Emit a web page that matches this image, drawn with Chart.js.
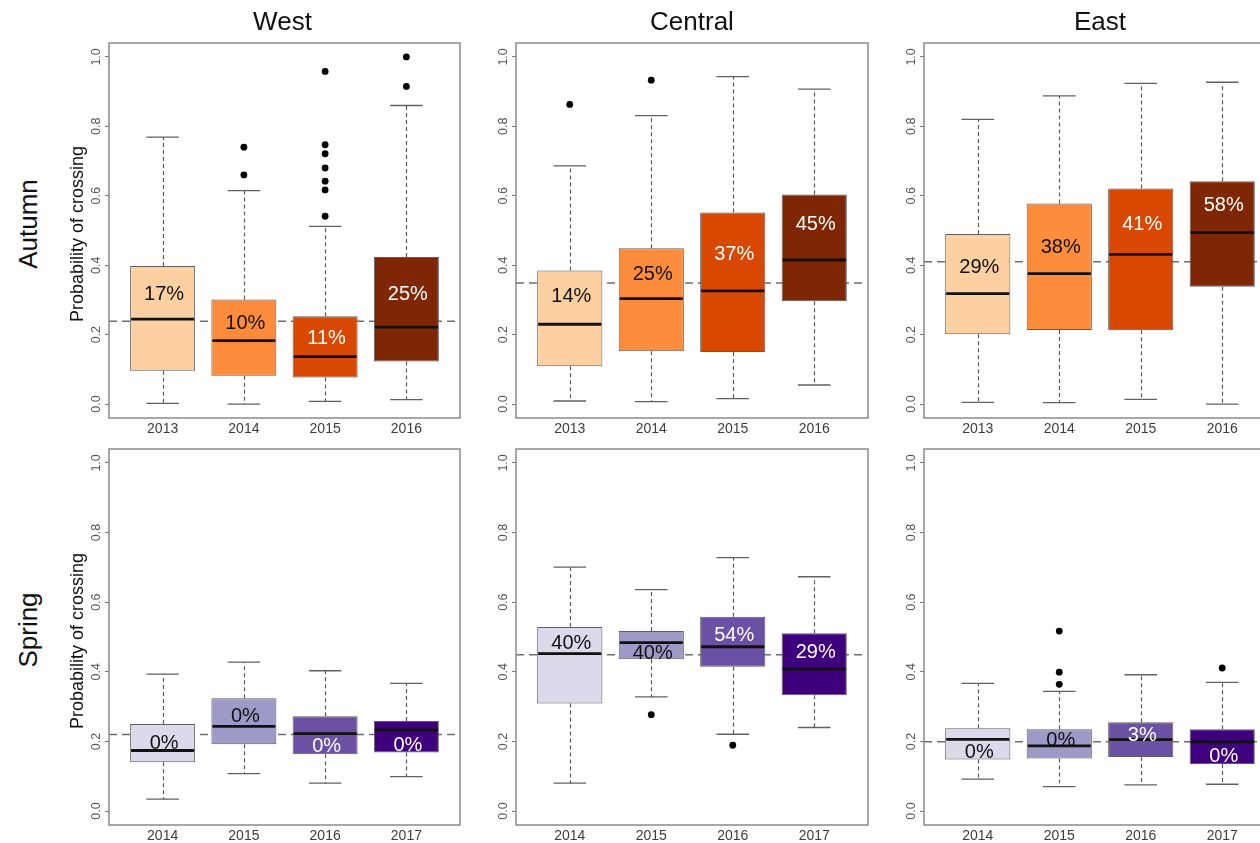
<!DOCTYPE html>
<html>
<head>
<meta charset="utf-8">
<script src="https://cdn.jsdelivr.net/npm/chart.js@4"></script>
<style>
  html, body { margin: 0; padding: 0; width: 1260px; height: 843px; overflow: hidden; background: #fff; }
  body { position: relative; font-family: "Liberation Sans", Arial, Helvetica, sans-serif; }
  canvas { position: absolute; }
  .lbl { position: absolute; white-space: nowrap; text-align: center; color: #111; }
</style>
</head>
<body>
<script>
// ---- Years on the x axis ----
const autumnYears = ['2013', '2014', '2015', '2016'];
const springYears = ['2014', '2015', '2016', '2017'];
const yTickValues = [0, 0.2, 0.4, 0.6, 0.8, 1.0];

// ---- Autumn, West ----
const westAutumnLow      = [0.002, 0.000, 0.008, 0.013];
const westAutumnQ1       = [0.096, 0.082, 0.077, 0.123];
const westAutumnMedian   = [0.245, 0.183, 0.137, 0.222];
const westAutumnQ3       = [0.398, 0.301, 0.253, 0.424];
const westAutumnHigh     = [0.769, 0.615, 0.512, 0.860];
const westAutumnOutliers = [[], [0.740, 0.660], [0.958, 0.747, 0.721, 0.680, 0.642, 0.617, 0.541], [1.000, 0.915]];
const westAutumnShare    = ['17%', '10%', '11%', '25%'];
const westAutumnShareAt  = [0.320, 0.237, 0.195, 0.320];
const westAutumnOverall  = 0.239;

// ---- Autumn, Central ----
const centralAutumnLow      = [0.009, 0.007, 0.016, 0.055];
const centralAutumnQ1       = [0.109, 0.152, 0.150, 0.296];
const centralAutumnMedian   = [0.230, 0.304, 0.326, 0.415];
const centralAutumnQ3       = [0.385, 0.449, 0.552, 0.604];
const centralAutumnHigh     = [0.686, 0.831, 0.943, 0.907];
const centralAutumnOutliers = [[0.863], [0.933], [], []];
const centralAutumnShare    = ['14%', '25%', '37%', '45%'];
const centralAutumnShareAt  = [0.315, 0.378, 0.435, 0.521];
const centralAutumnOverall  = 0.349;

// ---- Autumn, East ----
const eastAutumnLow      = [0.005, 0.004, 0.0135, 0.000];
const eastAutumnQ1       = [0.201, 0.2135, 0.2125, 0.338];
const eastAutumnMedian   = [0.318, 0.376, 0.431, 0.494];
const eastAutumnQ3       = [0.490, 0.578, 0.621, 0.642];
const eastAutumnHigh     = [0.820, 0.8875, 0.924, 0.927];
const eastAutumnOutliers = [[], [], [], []];
const eastAutumnShare    = ['29%', '38%', '41%', '58%'];
const eastAutumnShareAt  = [0.399, 0.455, 0.521, 0.577];
const eastAutumnOverall  = 0.410;

// ---- Spring, West ----
const westSpringLow      = [0.0345, 0.1075, 0.080, 0.099];
const westSpringQ1       = [0.140, 0.192, 0.163, 0.168];
const westSpringMedian   = [0.174, 0.243, 0.2225, 0.233];
const westSpringQ3       = [0.250, 0.324, 0.2725, 0.259];
const westSpringHigh     = [0.3935, 0.428, 0.403, 0.3666];
const westSpringOutliers = [[], [], [], []];
const westSpringShare    = ['0%', '0%', '0%', '0%'];
const westSpringShareAt  = [0.199, 0.275, 0.191, 0.194];
const westSpringOverall  = 0.220;

// ---- Spring, Central ----
const centralSpringLow      = [0.080, 0.328, 0.2207, 0.240];
const centralSpringQ1       = [0.309, 0.436, 0.4146, 0.333];
const centralSpringMedian   = [0.452, 0.484, 0.472, 0.408];
const centralSpringQ3       = [0.529, 0.517, 0.5585, 0.5106];
const centralSpringHigh     = [0.7006, 0.636, 0.728, 0.673];
const centralSpringOutliers = [[], [0.277], [0.189], []];
const centralSpringShare    = ['40%', '40%', '54%', '29%'];
const centralSpringShareAt  = [0.4866, 0.456, 0.5086, 0.4607];
const centralSpringOverall  = 0.449;

// ---- Spring, East ----
const eastSpringLow      = [0.092, 0.070, 0.075, 0.077];
const eastSpringQ1       = [0.148, 0.151, 0.1555, 0.135];
const eastSpringMedian   = [0.206, 0.187, 0.205, 0.199];
const eastSpringQ3       = [0.238, 0.235, 0.255, 0.235];
const eastSpringHigh     = [0.3666, 0.3436, 0.3916, 0.3695];
const eastSpringOutliers = [[], [0.517, 0.399, 0.364], [], [0.411]];
const eastSpringShare    = ['0%', '0%', '3%', '0%'];
const eastSpringShareAt  = [0.173, 0.208, 0.2226, 0.162];
const eastSpringOverall  = 0.199;

// ---- Styling ----
const FONT = '"Liberation Sans", Arial, Helvetica, sans-serif';
const autumnFill = ['#fdd0a2', '#fd8d3c', '#d94801', '#7f2704'];
const springFill = ['#dadaeb', '#9e9ac8', '#6a51a3', '#3f007d'];
const shareInk = ['#111111', '#111111', '#ffffff', '#ffffff'];

// plot-region geometry of the 3 x 2 grid
const COLS = [{ left: 109, right: 460 }, { left: 516, right: 868 }, { left: 924, right: 1276 }];
const ROWS = [{ top: 43, bottom: 418 }, { top: 449, bottom: 825 }];
const AXIS_W = 50, AXIS_H = 30, PAD_T = 10, PAD_R = 10;

const panels = [
  { row: 0, col: 0, years: autumnYears, fill: autumnFill, low: westAutumnLow, q1: westAutumnQ1, med: westAutumnMedian, q3: westAutumnQ3, high: westAutumnHigh, out: westAutumnOutliers, share: westAutumnShare, shareAt: westAutumnShareAt, overall: westAutumnOverall },
  { row: 0, col: 1, years: autumnYears, fill: autumnFill, low: centralAutumnLow, q1: centralAutumnQ1, med: centralAutumnMedian, q3: centralAutumnQ3, high: centralAutumnHigh, out: centralAutumnOutliers, share: centralAutumnShare, shareAt: centralAutumnShareAt, overall: centralAutumnOverall },
  { row: 0, col: 2, years: autumnYears, fill: autumnFill, low: eastAutumnLow, q1: eastAutumnQ1, med: eastAutumnMedian, q3: eastAutumnQ3, high: eastAutumnHigh, out: eastAutumnOutliers, share: eastAutumnShare, shareAt: eastAutumnShareAt, overall: eastAutumnOverall },
  { row: 1, col: 0, years: springYears, fill: springFill, low: westSpringLow, q1: westSpringQ1, med: westSpringMedian, q3: westSpringQ3, high: westSpringHigh, out: westSpringOutliers, share: westSpringShare, shareAt: westSpringShareAt, overall: westSpringOverall },
  { row: 1, col: 1, years: springYears, fill: springFill, low: centralSpringLow, q1: centralSpringQ1, med: centralSpringMedian, q3: centralSpringQ3, high: centralSpringHigh, out: centralSpringOutliers, share: centralSpringShare, shareAt: centralSpringShareAt, overall: centralSpringOverall },
  { row: 1, col: 2, years: springYears, fill: springFill, low: eastSpringLow, q1: eastSpringQ1, med: eastSpringMedian, q3: eastSpringQ3, high: eastSpringHigh, out: eastSpringOutliers, share: eastSpringShare, shareAt: eastSpringShareAt, overall: eastSpringOverall }
];

// whiskers, caps, medians, overall-level line, share labels and frame
function boxDecor(p) {
  const line = (ctx, x1, y1, x2, y2) => { ctx.beginPath(); ctx.moveTo(x1, y1); ctx.lineTo(x2, y2); ctx.stroke(); };
  return {
    id: 'boxDecor',
    beforeDatasetsDraw(chart) {
      const { ctx, chartArea: a, scales: { x, y } } = chart;
      ctx.save();
      // overall level, dashed across the panel
      ctx.strokeStyle = '#6e6e6e'; ctx.lineWidth = 1.5; ctx.setLineDash([8, 5]);
      const yr = y.getPixelForValue(p.overall);
      line(ctx, a.left, yr, a.right, yr);
      // whiskers
      ctx.strokeStyle = '#5a5a5a'; ctx.lineWidth = 1.2; ctx.setLineDash([4, 3]);
      p.years.forEach((_, i) => {
        const cx = Math.round(x.getPixelForValue(i + 1)) + 0.5;
        line(ctx, cx, y.getPixelForValue(p.q3[i]), cx, y.getPixelForValue(p.high[i]));
        line(ctx, cx, y.getPixelForValue(p.q1[i]), cx, y.getPixelForValue(p.low[i]));
      });
      // staples
      ctx.setLineDash([]); ctx.lineWidth = 1.3; ctx.strokeStyle = '#606060';
      p.years.forEach((_, i) => {
        const xl = x.getPixelForValue(i + 1 - 0.2), xr = x.getPixelForValue(i + 1 + 0.2);
        line(ctx, xl, y.getPixelForValue(p.high[i]), xr, y.getPixelForValue(p.high[i]));
        line(ctx, xl, y.getPixelForValue(p.low[i]), xr, y.getPixelForValue(p.low[i]));
      });
      ctx.restore();
    },
    afterDatasetsDraw(chart) {
      const { ctx, scales: { x, y } } = chart;
      ctx.save();
      ctx.strokeStyle = '#111'; ctx.lineWidth = 2.8;
      p.years.forEach((_, i) => {
        const ym = y.getPixelForValue(p.med[i]);
        line(ctx, x.getPixelForValue(i + 1 - 0.4) + 1, ym, x.getPixelForValue(i + 1 + 0.4) - 1, ym);
      });
      const fs = 20;
      ctx.font = fs + 'px ' + FONT; ctx.textAlign = 'center'; ctx.textBaseline = 'alphabetic';
      p.years.forEach((_, i) => {
        ctx.fillStyle = shareInk[i];
        ctx.fillText(p.share[i], x.getPixelForValue(i + 1) + 1.5, y.getPixelForValue(p.shareAt[i]) + 0.358 * fs);
      });
      ctx.restore();
    },
    afterDraw(chart) {
      const { ctx, chartArea: a } = chart;
      ctx.save();
      ctx.strokeStyle = '#8a8a8a'; ctx.lineWidth = 1.5;
      ctx.strokeRect(a.left, a.top, a.right - a.left, a.bottom - a.top);
      ctx.restore();
    }
  };
}

panels.forEach(p => {
  const c = COLS[p.col], r = ROWS[p.row];
  const cv = document.createElement('canvas');
  const w = c.right - c.left + AXIS_W + PAD_R, h = r.bottom - r.top + PAD_T + AXIS_H;
  cv.width = w; cv.height = h;
  cv.style.left = (c.left - AXIS_W) + 'px'; cv.style.top = (r.top - PAD_T) + 'px';
  cv.style.width = w + 'px'; cv.style.height = h + 'px';
  document.body.appendChild(cv);

  const outlierPoints = [];
  p.out.forEach((vals, i) => vals.forEach(v => outlierPoints.push({ x: i + 1, y: v })));

  new Chart(cv, {
    type: 'bar',
    data: {
      datasets: [
        {
          type: 'bar', order: 1,
          data: p.years.map((_, i) => ({ x: i + 1, y: [p.q1[i], p.q3[i]] })),
          backgroundColor: p.fill, borderColor: '#5e5e5e', borderWidth: 1, borderSkipped: false,
          categoryPercentage: 1, barPercentage: 0.8
        },
        {
          type: 'scatter', order: 0, data: outlierPoints,
          pointRadius: 3.4, pointBackgroundColor: '#000', pointBorderWidth: 0, pointStyle: 'circle'
        }
      ]
    },
    options: {
      responsive: false, animation: false, devicePixelRatio: 1,
      layout: { padding: { top: PAD_T, right: PAD_R, left: 0, bottom: 0 } },
      plugins: { legend: { display: false }, tooltip: { enabled: false } },
      scales: {
        x: {
          type: 'linear', min: 0.34, max: 4.66, offset: false,
          grid: { display: false, drawTicks: false, offset: false }, border: { display: false },
          afterBuildTicks: s => { s.ticks = p.years.map((_, i) => ({ value: i + 1 })); },
          afterFit: s => { s.height = AXIS_H; },
          ticks: { autoSkip: false, minRotation: 0, maxRotation: 0, padding: 3, color: '#3c3c3c',
                   font: { family: FONT, size: 14 }, callback: v => p.years[v - 1] }
        },
        y: {
          type: 'linear', min: -0.04, max: 1.04,
          grid: { display: true, drawOnChartArea: false, drawTicks: true, tickLength: 4, color: '#777', lineWidth: 1 },
          border: { display: false },
          afterBuildTicks: s => { s.ticks = yTickValues.map(v => ({ value: v })); },
          afterFit: s => { s.width = AXIS_W; },
          ticks: { minRotation: 90, maxRotation: 90, crossAlign: 'center', padding: 0, color: '#555',
                   font: { family: FONT, size: 12.5 }, callback: v => v.toFixed(1) }
        }
      }
    },
    plugins: [boxDecor(p)]
  });
});

// titles and row / axis labels
function addLabel(text, cx, cy, size, rotated) {
  const d = document.createElement('div');
  d.className = 'lbl'; d.textContent = text;
  const boxW = 400;
  d.style.width = boxW + 'px'; d.style.height = size + 'px';
  d.style.fontSize = size + 'px'; d.style.lineHeight = size + 'px';
  d.style.left = (cx - boxW / 2) + 'px'; d.style.top = (cy - size / 2) + 'px';
  if (rotated) d.style.transform = 'rotate(-90deg)';
  document.body.appendChild(d);
}
const columnTitles = ['West', 'Central', 'East'];
const rowTitles = ['Autumn', 'Spring'];
const yTitle = 'Probability of crossing';
columnTitles.forEach((t, i) => addLabel(t, (COLS[i].left + COLS[i].right) / 2 - (i === 0 ? 2 : 0), 21, 26, false));
addLabel(rowTitles[0], 28, 224, 26, true);
addLabel(rowTitles[1], 28, 630, 26, true);
addLabel(yTitle, 76.8, 234, 18, true);
addLabel(yTitle, 76.8, 641, 18, true);
</script>
</body>
</html>
